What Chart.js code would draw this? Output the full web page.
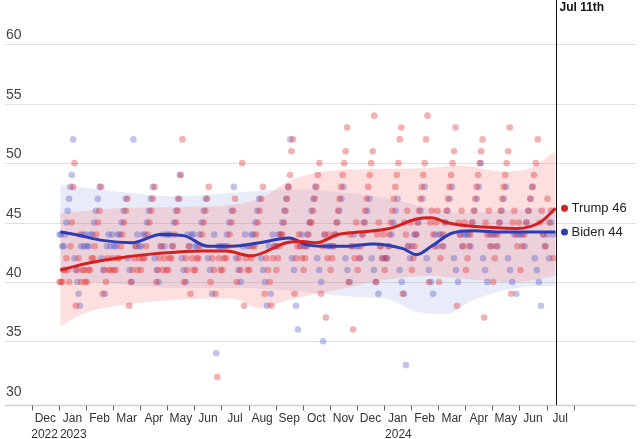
<!DOCTYPE html>
<html>
<head>
<meta charset="utf-8">
<script src="https://cdn.jsdelivr.net/npm/chart.js@4.4.1/dist/chart.umd.min.js"></script>
<style>
  html, body { margin: 0; padding: 0; background: #fff; }
  #wrap { position: relative; width: 640px; height: 439px; }
</style>
</head>
<body>
<div id="wrap"><canvas id="c"></canvas></div>
<script>
// months counted from Dec 2022 = 0 (each month spans [i, i+1])
const monthLabels = ['Dec','Jan','Feb','Mar','Apr','May','Jun','Jul','Aug','Sep','Oct','Nov','Dec','Jan','Feb','Mar','Apr','May','Jun','Jul'];
const yearLabels = { 0: '2022', 1: '2023', 13: '2024' };
const yTicks = [30, 35, 40, 45, 50, 55, 60];
const cutoff = 19.33; // Jul 11th marker

// polls by month (index 1 = Jan 2023, last row = Jun + early Jul 2024)
const trumpPolls = [
  [40,40,40,41,41,42,41,40,43,45,48,50,38,41,42,44,40,41,41,40],
  [40,41,41,42,42,43,44,45,46,48,39,41,40,42,41,41,42],
  [41,41,42,42,43,44,45,46,47,38,40,41,42,43,41,42],
  [41,42,42,43,44,45,46,47,48,40,41,42,43,41,42,41],
  [41,42,42,43,44,45,46,47,49,52,40,42,41,43,39,42,41],
  [41,42,42,43,44,45,46,47,48,40,42,41,39,32,42,41],
  [41,42,42,43,44,45,46,47,40,42,41,50,38,42,41],
  [41,42,43,43,44,45,46,47,48,39,42,41,40,38,42,43],
  [41,42,43,44,44,45,46,47,48,49,51,52,39,42,43,44,43,42],
  [41,42,43,44,45,45,46,47,48,49,50,39,43,44,37,42,44],
  [41,42,43,44,45,46,47,48,49,50,51,53,40,44,43,36,42,45],
  [41,42,43,44,45,46,47,48,49,50,51,54,40,44,45,43,42,44],
  [41,42,43,44,45,46,47,48,49,50,52,53,39,45,44,46,43,45],
  [41,42,43,44,45,46,47,48,49,50,52,54,40,45,46,44,43,45,46],
  [40,42,43,44,45,46,47,48,49,50,51,53,38,45,44,46,43,45],
  [41,42,43,44,45,46,47,48,49,50,51,52,37,45,44,46,43,44],
  [40,42,43,44,45,46,47,48,49,50,51,53,39,45,46,44,43,45],
  [41,43,44,45,46,47,48,49,50,52,45,46,44,43,47,45,46,42]
];
const bidenPolls = [
  [44,44,43,43,44,45,46,47,48,49,52,42,41,40,39,38,43,44,43,44],
  [43,43,44,44,45,46,47,48,42,41,39,43,44,43,44],
  [43,43,44,44,45,46,47,42,41,40,52,43,44,43],
  [43,44,44,45,46,47,48,42,41,40,43,44,43,44],
  [44,44,43,45,46,47,49,42,41,40,44,43,44,44],
  [43,43,44,45,46,47,42,41,39,44,34,43,43],
  [43,43,44,45,46,48,42,41,40,43,44,43],
  [43,44,44,45,46,47,42,41,40,38,43,39,44,43],
  [43,44,44,45,46,47,48,52,42,41,38,36,43,44],
  [43,43,44,45,46,47,48,42,41,40,35,44,43,43],
  [43,43,44,45,46,47,48,42,41,40,43,44,43],
  [43,42,44,45,46,47,42,41,40,39,43,42],
  [42,42,43,44,45,46,47,41,40,39,33,43,42],
  [43,44,44,45,46,47,48,42,41,40,39,44,43],
  [44,44,43,45,46,47,48,42,41,40,44,43,44],
  [44,44,43,45,46,47,48,50,42,41,40,44,43],
  [44,44,43,45,46,47,48,42,41,40,44,39,44],
  [44,44,43,45,46,47,48,42,41,40,38,44,43,44,42,45,44]
];

const trumpTrend = [[1.05,41.0],[2.1,41.6],[3.15,42.0],[4.2,42.3],[5.3,42.5],[6.3,42.6],[7.15,42.6],[8.1,42.2],[9.4,43.3],[10,43.4],[10.5,43.3],[11.3,44.0],[12.1,44.2],[13.2,44.5],[14.2,45.3],[14.75,45.4],[15.3,45.0],[15.8,44.8],[16.85,44.6],[17.9,44.5],[18.75,45.0],[19.33,46.2]];
const bidenTrend = [[1.05,44.2],[1.6,44.0],[2.6,43.5],[3.7,43.3],[4.75,44.0],[5.6,43.9],[6.5,43.0],[7.4,43.0],[8.4,43.3],[9.5,43.7],[10.2,43.1],[11,43.0],[11.6,43.0],[12.6,43.2],[13.7,42.8],[14.2,42.3],[14.75,43.0],[15.5,44.1],[16.3,44.3],[17.4,44.2],[19.33,44.2]];
const trumpUpper = [[1.05,45.8],[3.2,46.2],[5.3,46.3],[7.4,46.5],[8.4,47],[9.5,48.5],[10.5,49.2],[12.6,49.5],[14.7,49.6],[15.8,49.8],[17.4,49.3],[18.4,49.6],[19.33,51]];
const trumpLower = [[1.05,36.3],[2.1,37.5],[3.2,38],[5.3,38.5],[7.4,38.6],[8.4,37.8],[9.5,38.5],[11.6,39.5],[12.6,40],[14.7,40.5],[15.8,40.3],[17.9,40],[19.33,40.5]];
const bidenUpper = [[1.05,48.2],[3.2,47.6],[5.3,47.2],[7.4,47.5],[9.5,47.8],[11.6,47.5],[13.2,47],[14.7,46.2],[15.8,45.8],[17.4,46],[19.33,46.3]];
const bidenLower = [[1.05,40.2],[3.2,39.8],[5.3,39.5],[7.4,39.5],[9.5,39.3],[11.6,38.8],[13.2,38.5],[14.2,37.5],[15.3,37.3],[16.3,38.5],[17.9,39.5],[19.33,39.7]];

const toXY = arr => arr.map(p => ({ x: p[0], y: p[1] }));
const spread = polls => {
  const out = [];
  polls.forEach((vals, m) => {
    const width = m === polls.length - 1 ? cutoff - 18 - 0.05 : 1;
    vals.forEach((v, i) => out.push({ x: m + 1 + width * (i + 0.5) / vals.length, y: v }));
  });
  return out;
};

const RED = '#d42020', BLUE = '#2b3db0';

const decor = {
  id: 'decor',
  beforeDatasetsDraw(chart) {
    const { ctx, chartArea, scales: { y } } = chart;
    ctx.save();
    ctx.strokeStyle = '#e0e0e0';
    ctx.lineWidth = 1;
    ctx.font = '14px "Liberation Sans", Arial, sans-serif';
    ctx.fillStyle = '#444';
    ctx.textBaseline = 'bottom';
    yTicks.forEach(t => {
      const py = Math.round(y.getPixelForValue(t)) + 0.5;
      if (t > 30) {
        ctx.beginPath(); ctx.moveTo(chartArea.left, py); ctx.lineTo(chartArea.right, py); ctx.stroke();
      }
      ctx.fillText(String(t), 6, py - 2);
    });
    ctx.restore();
  },
  afterDatasetsDraw(chart) {
    const { ctx, chartArea, scales: { x, y } } = chart;
    ctx.save();
    const by = chartArea.bottom + 0.5;
    ctx.strokeStyle = '#d0d0d0';
    ctx.lineWidth = 1.5;
    ctx.beginPath(); ctx.moveTo(chartArea.left, by); ctx.lineTo(chartArea.right, by); ctx.stroke();
    ctx.strokeStyle = '#666';
    ctx.lineWidth = 1;
    for (let i = 0; i <= monthLabels.length; i++) {
      const px = Math.round(x.getPixelForValue(i)) + 0.5;
      ctx.beginPath(); ctx.moveTo(px, by); ctx.lineTo(px, by + 5); ctx.stroke();
    }
    ctx.fillStyle = '#333';
    ctx.font = '12px "Liberation Sans", Arial, sans-serif';
    ctx.textBaseline = 'top';
    monthLabels.forEach((m, i) => {
      const px = x.getPixelForValue(i + 0.5);
      ctx.textAlign = 'center';
      ctx.fillText(m, px, by + 7);
      if (yearLabels[i]) {
        // first year sits left of its month, the others start at the month tick
        ctx.textAlign = i === 0 ? 'right' : 'left';
        const yx = i === 0 ? x.getPixelForValue(1) - 1 : x.getPixelForValue(i) + 1;
        ctx.fillText(yearLabels[i], yx, by + 23);
      }
    });
    const cx = Math.round(x.getPixelForValue(cutoff)) + 0.5;
    ctx.strokeStyle = '#111';
    ctx.beginPath(); ctx.moveTo(cx, 0); ctx.lineTo(cx, chartArea.bottom); ctx.stroke();
    ctx.textAlign = 'left';
    ctx.font = 'bold 12px "Liberation Sans", Arial, sans-serif';
    ctx.fillStyle = '#111';
    ctx.fillText('Jul 11th', cx + 3, 2);
    ctx.font = '13px "Liberation Sans", Arial, sans-serif';
    ctx.textBaseline = 'middle';
    [[trumpTrend, RED, 'Trump 46'], [bidenTrend, BLUE, 'Biden 44']].forEach(([tr, col, txt]) => {
      const py = y.getPixelForValue(tr[tr.length - 1][1]);
      ctx.fillStyle = col;
      ctx.beginPath(); ctx.arc(cx + 8, py, 3.5, 0, Math.PI * 2); ctx.fill();
      ctx.fillStyle = '#222';
      ctx.fillText(txt, cx + 15, py);
    });
    ctx.restore();
  }
};

const lineBase = { type: 'line', pointRadius: 0, borderWidth: 0, tension: 0.4, cubicInterpolationMode: 'monotone' };

new Chart(document.getElementById('c'), {
  type: 'scatter',
  data: {
    datasets: [
      { ...lineBase, data: toXY(trumpLower), order: 3, fill: false, borderColor: 'transparent' },
      { ...lineBase, data: toXY(trumpUpper), order: 3, fill: '-1', borderColor: 'transparent', backgroundColor: 'rgba(248,140,140,0.28)' },
      { ...lineBase, data: toXY(bidenLower), order: 3, fill: false, borderColor: 'transparent' },
      { ...lineBase, data: toXY(bidenUpper), order: 3, fill: '-1', borderColor: 'transparent', backgroundColor: 'rgba(120,135,215,0.17)' },
      { data: spread(trumpPolls), order: 2, pointRadius: 3.3, pointBorderWidth: 0, backgroundColor: 'rgba(225,50,50,0.38)' },
      { data: spread(bidenPolls), order: 2, pointRadius: 3.3, pointBorderWidth: 0, backgroundColor: 'rgba(70,80,200,0.34)' },
      { ...lineBase, data: toXY(bidenTrend), order: 1, borderWidth: 3, borderColor: BLUE, fill: false },
      { ...lineBase, data: toXY(trumpTrend), order: 0, borderWidth: 3, borderColor: RED, fill: false }
    ]
  },
  options: {
    responsive: true,
    maintainAspectRatio: false,
    animation: false,
    layout: { padding: { left: 5, right: 0, top: 0, bottom: 34 } },
    plugins: { legend: { display: false }, tooltip: { enabled: false } },
    scales: {
      x: { type: 'linear', display: false, min: -0.99, max: 22.3 },
      y: { type: 'linear', display: false, min: 29.64, max: 63.4 }
    }
  },
  plugins: [decor]
});
</script>
</body>
</html>
